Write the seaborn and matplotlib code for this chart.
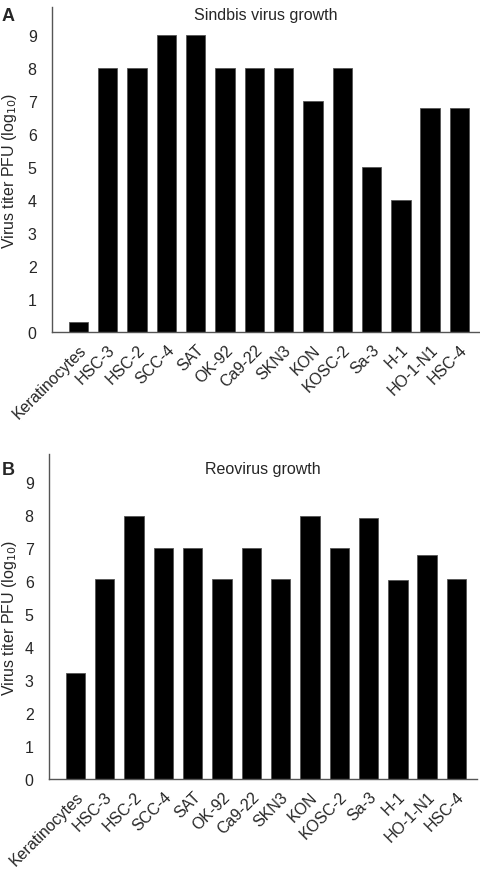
import matplotlib
matplotlib.use("Agg")
import matplotlib.pyplot as plt
import seaborn as sns
import pandas as pd

cells = ["Keratinocytes", "HSC-3", "HSC-2", "SCC-4", "SAT", "OK-92", "Ca9-22",
         "SKN3", "KON", "KOSC-2", "Sa-3", "H-1", "HO-1-N1", "HSC-4"]
sindbis = [0.3, 8, 8, 9, 9, 8, 8, 8, 7, 8, 5, 4, 6.8, 6.8]
reovirus = [3.2, 6.06, 7.97, 7, 7, 6.06, 7, 6.06, 7.97, 7, 7.9, 6.03, 6.78, 6.06]
yticks = list(range(10))

sns.set_theme(style="white")
plt.rcParams["font.family"] = ["Liberation Sans", "DejaVu Sans"]

fig = plt.figure(figsize=(4.8, 8.7), dpi=100)
axA = fig.add_axes([52/480, 537/870, 1 - 52/480, 325/870])
axB = fig.add_axes([49/480, 90/870, 477/480 - 49/480, 325/870])

panels = [(axA, sindbis, "Sindbis virus growth", "A", 52, 1.0),
          (axB, reovirus, "Reovirus growth", "B", 49, 0.978)]

fs = 11.5
for ax, vals, title, lab, left_px, ty in panels:
    df = pd.DataFrame({"cell": cells, "titer": vals})
    sns.barplot(data=df, x="cell", y="titer", order=cells, color="black",
                width=0.66, edgecolor="#555555", linewidth=0.6, saturation=1,
                ax=ax)
    ax.set_ylim(0, 9.85)
    ax.set_xlim(-0.9, 13.7)
    ax.set_yticks(yticks)
    ax.set_yticklabels([str(t) for t in yticks], fontsize=fs)
    ax.tick_params(axis="y", length=0, pad=11)
    ax.tick_params(axis="x", length=0, pad=7)
    for t in ax.get_xticklabels():
        t.set_rotation(45)
        t.set_ha("right")
        t.set_rotation_mode("anchor")
        t.set_fontsize(fs)
    ax.set_xlabel("")
    ax.set_ylabel("Virus titer PFU (log$_{10}$)", fontsize=fs)
    width_px = ax.get_position().width * 480
    ax.yaxis.set_label_coords((19 - left_px) / width_px, 0.5)
    for s in ["top", "right"]:
        ax.spines[s].set_visible(False)
    for s in ["left", "bottom"]:
        ax.spines[s].set_color("#555555")
        ax.spines[s].set_linewidth(1.0)
    ax.text(0.5, ty, title, transform=ax.transAxes, ha="center", va="top",
            fontsize=fs)
    ax.text((2 - left_px) / width_px, ty, lab, transform=ax.transAxes,
            ha="left", va="top", fontsize=13, fontweight="bold")

fig.savefig("out.png", dpi=100)
